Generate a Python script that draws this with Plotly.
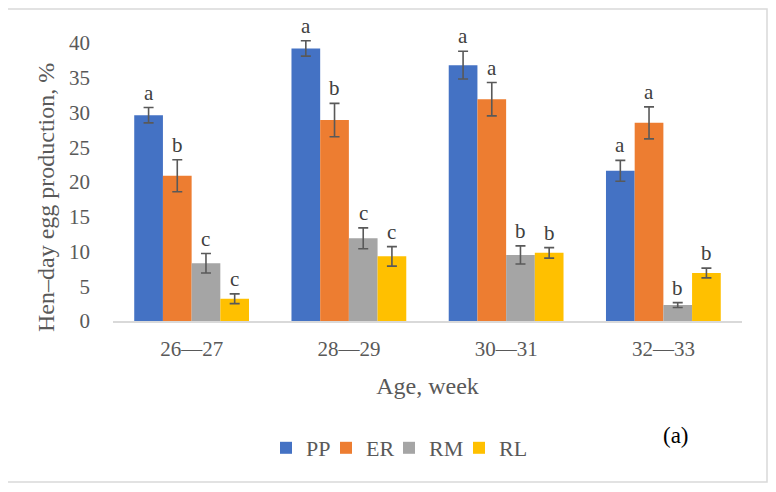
import plotly.graph_objects as go

categories = ["26\u201427", "28\u201429", "30\u201431", "32\u201433"]
series_names = ["PP", "ER", "RM", "RL"]
values = {
    "PP": [29.6, 39.2, 36.8, 21.6],
    "ER": [20.9, 28.9, 31.9, 28.5],
    "RM": [8.3, 11.9, 9.5, 2.3],
    "RL": [3.2, 9.3, 9.8, 6.9],
}
errors = {
    "PP": [1.1, 1.1, 2.0, 1.5],
    "ER": [2.3, 2.4, 2.4, 2.3],
    "RM": [1.4, 1.5, 1.3, 0.35],
    "RL": [0.7, 1.4, 0.75, 0.7],
}
letters = {
    "PP": ["a", "a", "a", "a"],
    "ER": ["b", "b", "a", "a"],
    "RM": ["c", "c", "b", "b"],
    "RL": ["c", "c", "b", "b"],
}
y_ticks = [0, 5, 10, 15, 20, 25, 30, 35, 40]
y_title = "Hen\u2013day egg production, %"
x_title = "Age, week"
colors = {"PP": "#4472C4", "ER": "#ED7D31", "RM": "#A5A5A5", "RL": "#FFC000"}
legend_entry_widths = {"PP": 15, "ER": 18, "RM": 25, "RL": 34}

FONT = "Liberation Serif"
OFF = 8  # default page body margin
W, H = 776 - OFF, 492 - OFF
PL, PR, PT, PB = 113, 742, 29, 321  # plot area in page pixels
L, R, T, B = PL - OFF, 776 - PR, PT - OFF, 492 - PB
bargap = 0.27
y_max = 42

xpos = list(range(len(categories)))
fig = go.Figure()
for s in series_names:
    fig.add_trace(go.Bar(
        name=s, x=xpos, y=values[s],
        marker=dict(color=colors[s], line=dict(width=0)),
        error_y=dict(type="data", array=errors[s], visible=True,
                     color="#595959", thickness=1.6, width=5),
        legendwidth=legend_entry_widths[s],
    ))

bw = (1 - bargap) / len(series_names)
annotations = []
for i, s in enumerate(series_names):
    off = (i - (len(series_names) - 1) / 2) * bw
    for j in xpos:
        annotations.append(dict(
            x=j + off, y=values[s][j] + errors[s][j], xref="x", yref="y",
            text=letters[s][j], showarrow=False, yanchor="bottom", yshift=1,
            font=dict(family=FONT, size=21, color="#404040"),
        ))

pw, ph = PR - PL, PB - PT
def px(xp):
    return (xp - PL) / pw
def py(yp):
    return (PB - yp) / ph

annotations.append(dict(
    x=px(676), y=py(435), xref="paper", yref="paper", text="(a)",
    showarrow=False, xanchor="center", yanchor="middle",
    font=dict(family=FONT, size=23, color="#000000"),
))
annotations.append(dict(
    x=px(46), y=py(198), xref="paper", yref="paper", text=y_title,
    showarrow=False, xanchor="center", yanchor="middle", textangle=-90,
    font=dict(family=FONT, size=24, color="#595959"),
))

fig.update_layout(
    width=W, height=H,
    margin=dict(l=L, r=R, t=T, b=B, autoexpand=False),
    paper_bgcolor="white", plot_bgcolor="white",
    barmode="group", bargap=bargap, bargroupgap=0,
    font=dict(family=FONT, color="#595959"),
    showlegend=True,
    legend=dict(orientation="h", x=px(266), xanchor="left", y=py(448), yanchor="middle",
                font=dict(family=FONT, size=22, color="#595959"),
                itemwidth=30, tracegroupgap=0, borderwidth=0),
    annotations=annotations,
    xaxis=dict(
        tickmode="array", tickvals=xpos, ticktext=categories,
        range=[-0.5, len(categories) - 0.5],
        showline=True, linecolor="#D9D9D9", linewidth=1.5,
        showgrid=False, zeroline=False, ticks="", automargin=False,
        tickfont=dict(family=FONT, size=21, color="#595959"),
        ticklabelstandoff=8,
        title=dict(text=x_title, font=dict(family=FONT, size=24, color="#595959"), standoff=17),
    ),
    yaxis=dict(
        range=[0, y_max], tickvals=y_ticks,
        showgrid=False, zeroline=False, showline=False, ticks="", automargin=False,
        tickfont=dict(family=FONT, size=21, color="#595959"),
        ticklabelstandoff=22,
    ),
    shapes=[dict(type="rect", xref="paper", yref="paper",
                 x0=px(6), x1=px(767), y0=py(482), y1=py(9),
                 line=dict(color="#D9D9D9", width=1.5), fillcolor="rgba(0,0,0,0)", layer="below")],
)

fig.write_html("out.html")
